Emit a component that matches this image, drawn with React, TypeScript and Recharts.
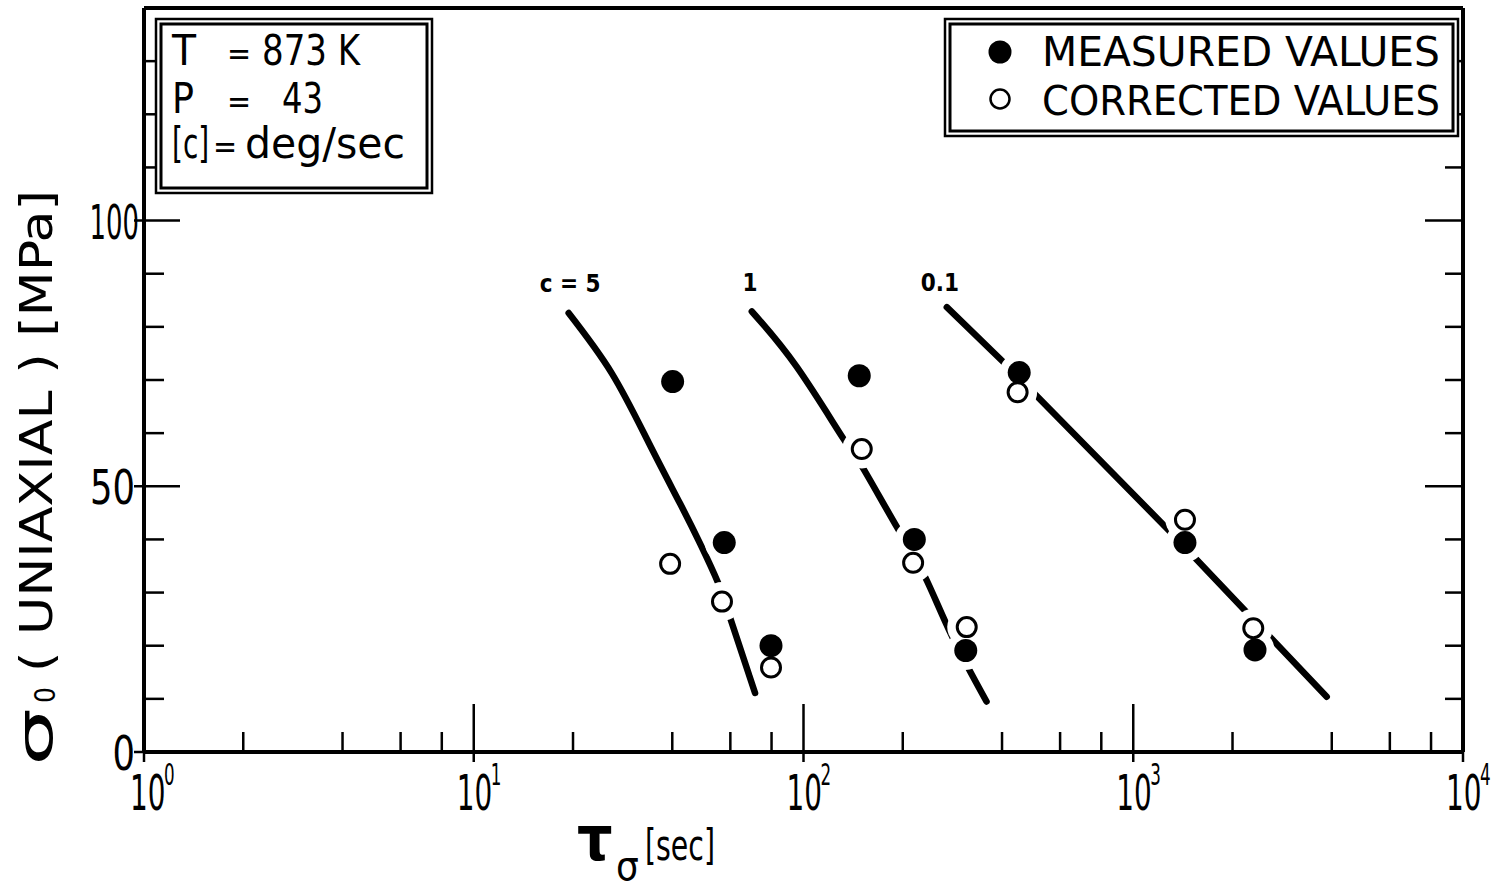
import React from "react";
import { ComposedChart, Scatter, XAxis, YAxis, ReferenceDot } from "recharts";

const FONT = "'Liberation Sans Narrow', 'DejaVu Sans Condensed', 'Liberation Sans', sans-serif";

// readings taken off the scanned figure
const measuredTau = [40.1, 57.5, 79.7, 147.6, 216.8, 310.5, 451, 1435, 2340];
const measuredSigma = [69.7, 39.4, 20.0, 70.8, 40.0, 19.1, 71.4, 39.4, 19.2];
const correctedTau = [39.4, 56.6, 79.7, 150.2, 215, 312.6, 446, 1435, 2312];
const correctedSigma = [35.4, 28.3, 15.9, 57.0, 35.6, 23.5, 67.7, 43.7, 23.3];

const c5Tau = [19.4, 26.2, 34.0, 42.2, 48.5, 55.1, 59.8, 71.3];
const c5Sigma = [82.6, 71.3, 58.1, 46.8, 39.3, 31.8, 25.4, 11.1];
const c1Tau = [69.7, 95.3, 132, 150, 191.7, 233.5, 281, 359];
const c1Sigma = [82.9, 72.5, 59.0, 53.9, 42.4, 33.0, 22.0, 9.5];
const c01Tau = [272, 408, 1292, 3861];
const c01Sigma = [83.7, 73.1, 41.5, 10.4];

const curveLabels = ["c = 5", "1", "0.1"];
const curveLabelTau = [19.6, 68.8, 259];
const curveLabelSigma = [88.2, 88.3, 88.3];

const xTicks = [1, 2, 4, 6, 8, 10, 20, 40, 60, 80, 100, 200, 400, 600, 800, 1000, 2000, 4000, 6000, 8000, 10000];
const yTicks = [0, 10, 20, 30, 40, 50, 60, 70, 80, 90, 100, 110, 120, 130, 140];

const pts = (xs: number[], ys: number[]) => xs.map((tau, i) => ({ tau, sigma: ys[i] }));

const measured = pts(measuredTau, measuredSigma);
const corrected = pts(correctedTau, correctedSigma);

const isDecade = (v: number) => Math.abs(Math.log10(v) - Math.round(Math.log10(v))) < 1e-9;

// the scanned lettering is much narrower than any installed face, so squeeze it
const NARROW = 0.62;

function BottomTick({ x, y, payload }: any) {
  const v = payload.value;
  const major = isDecade(v);
  const e = Math.round(Math.log10(v));
  const dx = e === 0 ? -14 : -17;
  return (
    <g>
      <line x1={x} x2={x} y1={major ? y + 10 : y} y2={major ? y - 48 : y - 20} stroke="#000" strokeWidth={2.5} />
      {major && (
        <>
          <text transform={`translate(${x + dx},${y + 58}) scale(${NARROW},1)`} fontSize={50} fontFamily={FONT} fill="#000">10</text>
          <text transform={`translate(${x + dx + 34},${y + 33}) scale(${NARROW},1)`} fontSize={30} fontFamily={FONT} fill="#000">{e}</text>
        </>
      )}
    </g>
  );
}

function TopTick({ x, y, payload }: any) {
  const major = isDecade(payload.value);
  return <line x1={x} x2={x} y1={y} y2={y + (major ? 18 : 11)} stroke="#000" strokeWidth={2.5} />;
}

function LeftTick({ x, y, payload }: any) {
  const v = payload.value;
  const major = v % 50 === 0;
  return (
    <g>
      <line x1={major ? x - 10 : x} x2={x + (major ? 36 : 20)} y1={y} y2={y} stroke="#000" strokeWidth={2.5} />
      {major && (
        <text transform={`translate(${x - (v === 100 ? 5 : 9)},${y + 18}) scale(${v === 100 ? 0.6 : 0.82},1)`} textAnchor="end" fontSize={48} fontFamily={FONT} fill="#000">{v}</text>
      )}
    </g>
  );
}

function RightTick({ x, y, payload }: any) {
  const major = payload.value % 50 === 0;
  return <line x1={x} x2={x - (major ? 38 : 18)} y1={y} y2={y} stroke="#000" strokeWidth={2.5} />;
}

const NoDot = () => <g />;
// white disc under each marker that cuts the fitted curve, as in the original drawing
const Halo = (p: any) => <circle cx={p.cx} cy={p.cy} r={19.5} fill="#fff" stroke="none" />;
const Filled = (p: any) => <circle cx={p.cx} cy={p.cy} r={11.5} fill="#000" />;
const Open = (p: any) => <circle cx={p.cx} cy={p.cy} r={9.5} fill="#fff" stroke="#000" strokeWidth={3} />;

const axisLine = { stroke: "#000", strokeWidth: 4 };
const curveLine = { stroke: "#000", strokeWidth: 6.5, strokeLinecap: "round" as const, fill: "none" };

function Overlay() {
  const t = { fontFamily: FONT, fill: "#000" };
  const fit = { lengthAdjust: "spacingAndGlyphs" as const };
  return (
    <svg width={1493} height={890} style={{ position: "absolute", left: 0, top: 0, pointerEvents: "none" }}>
      {/* parameter box */}
      <rect x={156} y={19} width={276} height={174} fill="#fff" stroke="#000" strokeWidth={2.5} />
      <rect x={161} y={24} width={266} height={164} fill="none" stroke="#000" strokeWidth={3} />
      <text x={172} y={65} fontSize={42} {...t} textLength={24} {...fit}>T</text>
      <text x={227} y={65} fontSize={32} {...t}>=</text>
      <text x={262} y={65} fontSize={42} {...t} textLength={98} {...fit}>873 K</text>
      <text x={172} y={113} fontSize={42} {...t} textLength={22} {...fit}>P</text>
      <text x={227} y={113} fontSize={32} {...t}>=</text>
      <text x={282} y={113} fontSize={42} {...t} textLength={41} {...fit}>43</text>
      <text transform="translate(172,158) scale(0.74,1)" fontSize={42} {...t}>[c]</text>
      <text x={213} y={158} fontSize={32} {...t}>=</text>
      <text x={245} y={158} fontSize={42} {...t} textLength={160} {...fit}>deg/sec</text>

      {/* legend box */}
      <rect x={945} y={19} width={513} height={117} fill="#fff" stroke="#000" strokeWidth={2.5} />
      <rect x={950} y={24} width={503} height={107} fill="none" stroke="#000" strokeWidth={3} />
      <circle cx={1000} cy={52} r={11.5} fill="#000" />
      <circle cx={1000} cy={99} r={9.5} fill="#fff" stroke="#000" strokeWidth={2.5} />
      <text x={1042} y={66} fontSize={40} {...t} textLength={398} {...fit}>MEASURED VALUES</text>
      <text x={1042} y={115} fontSize={40} {...t} textLength={398} {...fit}>CORRECTED VALUES</text>

      {/* y title */}
      <g transform="rotate(-90)">
        <text x={-766} y={52} fontSize={50} {...t} textLength={58} {...fit}>σ</text>
        <text x={-703} y={55} fontSize={28} {...t}>0</text>
        <text x={-672} y={52} fontSize={44} {...t} textLength={482} {...fit}>( UNIAXIAL )  [MPa]</text>
      </g>

      {/* x title */}
      <text x={577} y={860} fontSize={62} {...t} fontWeight="bold">τ</text>
      <text x={616} y={880} fontSize={40} {...t}>σ</text>
      <text x={645} y={860} fontSize={42} {...t} textLength={70} {...fit}>[sec]</text>
    </svg>
  );
}

export default function App() {
  return (
    <div style={{ position: "absolute", left: 0, top: 0, width: 1493, height: 890, background: "#fff" }}>
      <ComposedChart width={1493} height={890} margin={{ top: 0, right: 20, bottom: 78, left: 64 }}>
        <XAxis
          xAxisId="b"
          dataKey="tau"
          type="number"
          scale="log"
          domain={[1, 10000]}
          allowDataOverflow
          ticks={xTicks}
          interval={0}
          height={60}
          tickSize={0}
          tickMargin={0}
          tickLine={false}
          axisLine={axisLine}
          tick={<BottomTick />}
        />
        <XAxis
          xAxisId="t"
          orientation="top"
          type="number"
          scale="log"
          domain={[1, 10000]}
          allowDataOverflow
          ticks={xTicks}
          interval={0}
          height={8}
          tickSize={0}
          tickMargin={0}
          tickLine={false}
          axisLine={axisLine}
          tick={<TopTick />}
        />
        <YAxis
          yAxisId="l"
          dataKey="sigma"
          type="number"
          domain={[0, 140]}
          allowDataOverflow
          ticks={yTicks}
          interval={0}
          width={80}
          tickSize={0}
          tickMargin={0}
          tickLine={false}
          axisLine={axisLine}
          tick={<LeftTick />}
        />
        <YAxis
          yAxisId="r"
          orientation="right"
          type="number"
          domain={[0, 140]}
          allowDataOverflow
          ticks={yTicks}
          interval={0}
          width={10}
          tickSize={0}
          tickMargin={0}
          tickLine={false}
          axisLine={axisLine}
          tick={<RightTick />}
        />
        {/* fitted curves, drawn as scatter lines so the marker halos can cut them */}
        <Scatter xAxisId="b" yAxisId="l" data={pts(c5Tau, c5Sigma)} line={curveLine} lineJointType="natural" shape={NoDot} isAnimationActive={false} />
        <Scatter xAxisId="b" yAxisId="l" data={pts(c1Tau, c1Sigma)} line={curveLine} lineJointType="natural" shape={NoDot} isAnimationActive={false} />
        <Scatter xAxisId="b" yAxisId="l" data={pts(c01Tau, c01Sigma)} line={curveLine} lineJointType="linear" shape={NoDot} isAnimationActive={false} />
        <Scatter xAxisId="b" yAxisId="l" data={measured} shape={Halo} isAnimationActive={false} />
        <Scatter xAxisId="b" yAxisId="l" data={corrected} shape={Halo} isAnimationActive={false} />
        <Scatter xAxisId="b" yAxisId="l" data={measured} shape={Filled} isAnimationActive={false} />
        <Scatter xAxisId="b" yAxisId="l" data={corrected} shape={Open} isAnimationActive={false} />
        {curveLabels.map((s, i) => (
          <ReferenceDot
            key={s}
            xAxisId="b"
            yAxisId="l"
            x={curveLabelTau[i]}
            y={curveLabelSigma[i]}
            r={0}
            fill="none"
            stroke="none"
            label={{ value: s, position: "center", fontSize: 24, fontWeight: "bold", fontFamily: FONT, fill: "#000" }}
          />
        ))}
      </ComposedChart>
      <Overlay />
    </div>
  );
}
